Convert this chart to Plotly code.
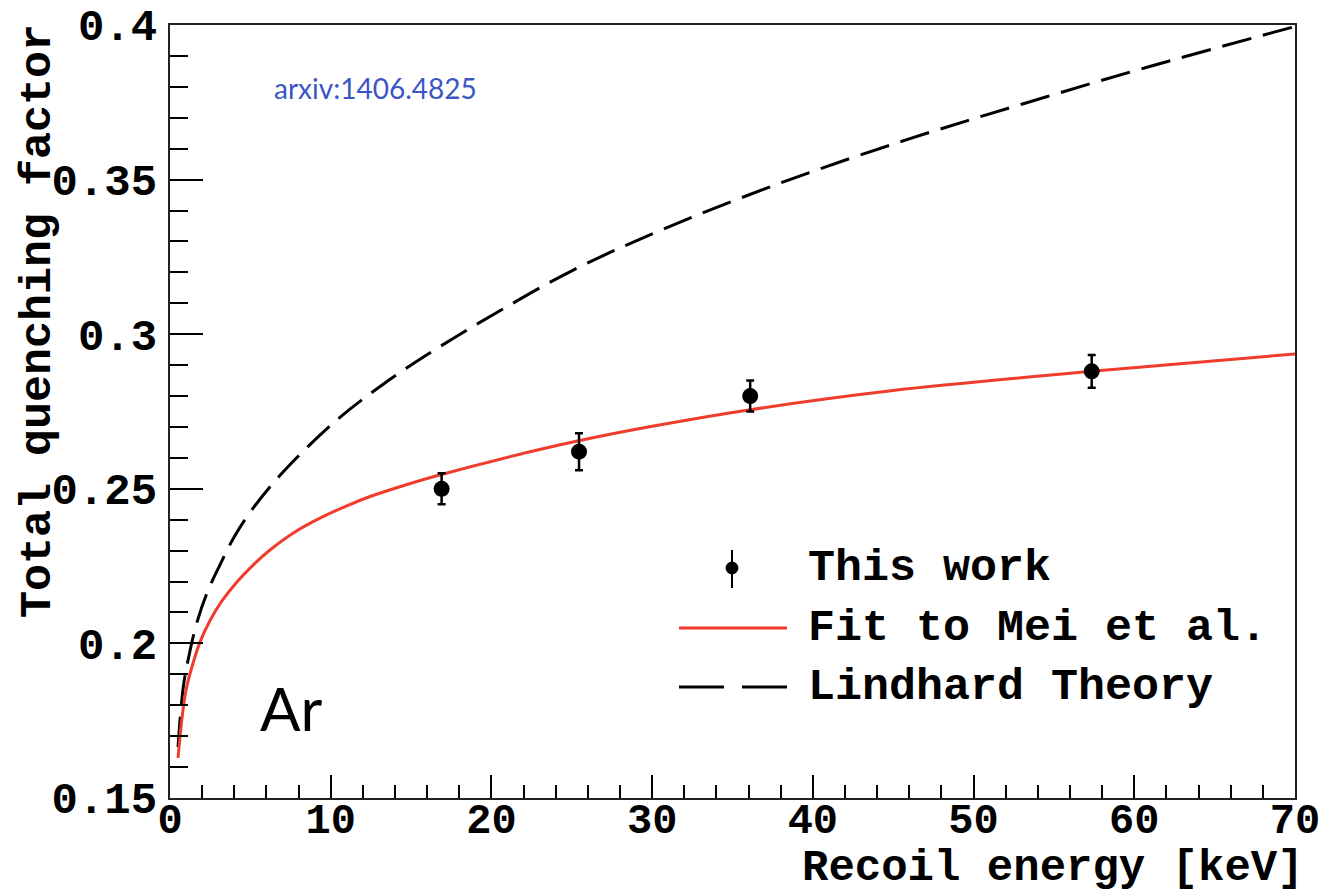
import plotly.graph_objects as go

# Measured total quenching factor in argon
energy_kev = [16.9, 25.45, 36.1, 57.35]
qf_meas = [0.250, 0.262, 0.280, 0.288]
qf_err = [0.005, 0.006, 0.005, 0.0053]

# Fit to Mei et al. (sampled curve)
fit_e = [0.5, 0.75, 1.0, 1.4, 1.87, 2.5, 3.2, 4.15, 5.2, 6.22, 7.7, 9.33, 11.0, 12.45, 14.5,
         16.6, 21.16, 25.5, 30.0, 36.0, 45.0, 57.35, 70.0]
fit_qf = [0.163, 0.176, 0.185, 0.193, 0.2005, 0.2075, 0.2135, 0.2198, 0.2255, 0.2302,
          0.2358, 0.2405, 0.2445, 0.2475, 0.251, 0.2542, 0.2604, 0.2656, 0.2702, 0.2755,
          0.2818, 0.288, 0.2936]

# Lindhard theory (sampled curve)
lind_e = [0.5, 0.83, 1.2, 1.66, 2.3, 3.11, 4.0, 5.08, 7.05, 10.37, 13.48, 16.8, 20.5,
          25.0, 30.7, 38.3, 45.9, 53.2, 60.9, 70.0]
lind_qf = [0.1665, 0.186, 0.1965, 0.2065, 0.2163, 0.2254, 0.2345, 0.2431, 0.2555, 0.2722,
           0.2846, 0.296, 0.3075, 0.3205, 0.334, 0.3495, 0.363, 0.3747, 0.3865, 0.3995]

x_ticks = [0, 10, 20, 30, 40, 50, 60, 70]
y_ticks = [0.15, 0.2, 0.25, 0.3, 0.35, 0.4]
y_tick_text = ["0.15", "0.2", "0.25", "0.3", "0.35", "0.4"]

MONO = "Courier New, Liberation Mono, monospace"
RED = "#f03c2d"

fig = go.Figure()

fig.add_trace(go.Scatter(
    x=lind_e, y=lind_qf, mode="lines", line_shape="spline",
    line=dict(color="black", width=3, dash="30px,12px"),
    name="Lindhard Theory", showlegend=False,
))
fig.add_trace(go.Scatter(
    x=fit_e, y=fit_qf, mode="lines", line_shape="spline",
    line=dict(color=RED, width=3, smoothing=0.8),
    name="Fit to Mei et al.", showlegend=False,
))
fig.add_trace(go.Scatter(
    x=energy_kev, y=qf_meas, mode="markers",
    marker=dict(color="black", size=16, symbol="circle"),
    error_y=dict(type="data", array=qf_err, color="black", thickness=2.5, width=4),
    name="This work", showlegend=False,
))

W, H = 1324, 896
L, R, T, B = 170, 29, 25, 98
pw, ph = W - L - R, H - T - B


def px(xp):
    return (xp - L) / pw


def py(yp):
    return (H - B - yp) / ph


shapes = []
annotations = []

# Legend glyphs
shapes.append(dict(type="line", xref="paper", yref="paper",
                   x0=px(732), x1=px(732), y0=py(550), y1=py(588),
                   line=dict(color="black", width=2)))
shapes.append(dict(type="circle", xref="paper", yref="paper",
                   x0=px(726), x1=px(738), y0=py(562), y1=py(574),
                   fillcolor="black", line=dict(color="black", width=1)))
shapes.append(dict(type="line", xref="paper", yref="paper",
                   x0=px(679), x1=px(787), y0=py(628), y1=py(628),
                   line=dict(color=RED, width=3)))
for a, b in [(679, 724), (742, 787)]:
    shapes.append(dict(type="line", xref="paper", yref="paper",
                       x0=px(a), x1=px(b), y0=py(687), y1=py(687),
                       line=dict(color="black", width=3)))

for label, yp in [("This work", 568), ("Fit to Mei et al.", 628), ("Lindhard Theory", 687)]:
    annotations.append(dict(text="<b>%s</b>" % label, xref="paper", yref="paper",
                            x=px(806), y=py(yp), xanchor="left", yanchor="middle",
                            showarrow=False, font=dict(family=MONO, size=45, color="black")))

# Axis titles
annotations.append(dict(text="<b>Recoil energy [keV]</b>", xref="paper", yref="paper",
                        x=px(1306), y=py(868), xanchor="right", yanchor="middle",
                        showarrow=False, font=dict(family=MONO, size=44, color="black")))
annotations.append(dict(text="<b>Total quenching factor</b>", xref="paper", yref="paper",
                        x=px(39), y=py(22), xanchor="center", yanchor="top", textangle=-90,
                        showarrow=False, font=dict(family=MONO, size=45, color="black")))

# Labels inside the frame
annotations.append(dict(text="arxiv:1406.4825", xref="paper", yref="paper",
                        x=px(272), y=py(88), xanchor="left", yanchor="middle",
                        showarrow=False, font=dict(family="Lato, Open Sans, sans-serif", size=28,
                                                   color="#3a56c4")))
annotations.append(dict(text="Ar", xref="paper", yref="paper",
                        x=px(258), y=py(708), xanchor="left", yanchor="middle",
                        showarrow=False, font=dict(family="Lato, Open Sans, sans-serif", size=60,
                                                   color="black")))

fig.update_layout(
    width=W, height=H,
    margin=dict(l=L, r=R, t=T, b=B, autoexpand=False),
    paper_bgcolor="white", plot_bgcolor="white",
    shapes=shapes, annotations=annotations,
    showlegend=False,
)

fig.update_xaxes(
    range=[0, 70], tickvals=x_ticks, ticks="inside", ticklen=23, tickwidth=2, tickcolor="black",
    minor=dict(dtick=2, ticks="inside", ticklen=13, tickwidth=2, tickcolor="black", showgrid=False),
    showgrid=False, zeroline=False, showline=True, linecolor="#222", linewidth=2, mirror=True,
    tickfont=dict(family=MONO, size=42, color="black", weight="bold"), ticklabelstandoff=-17,
    automargin=False,
)
fig.update_yaxes(
    range=[0.15, 0.4], tickvals=y_ticks, ticktext=y_tick_text,
    ticks="inside", ticklen=33, tickwidth=2, tickcolor="black",
    minor=dict(dtick=0.01, tick0=0.15, ticks="inside", ticklen=18, tickwidth=2, tickcolor="black",
               showgrid=False),
    showgrid=False, zeroline=False, showline=True, linecolor="#222", linewidth=2, mirror=True,
    tickfont=dict(family=MONO, size=44, color="black", weight="bold"), ticklabelstandoff=2,
    automargin=False,
)

fig.write_html("out.html")
